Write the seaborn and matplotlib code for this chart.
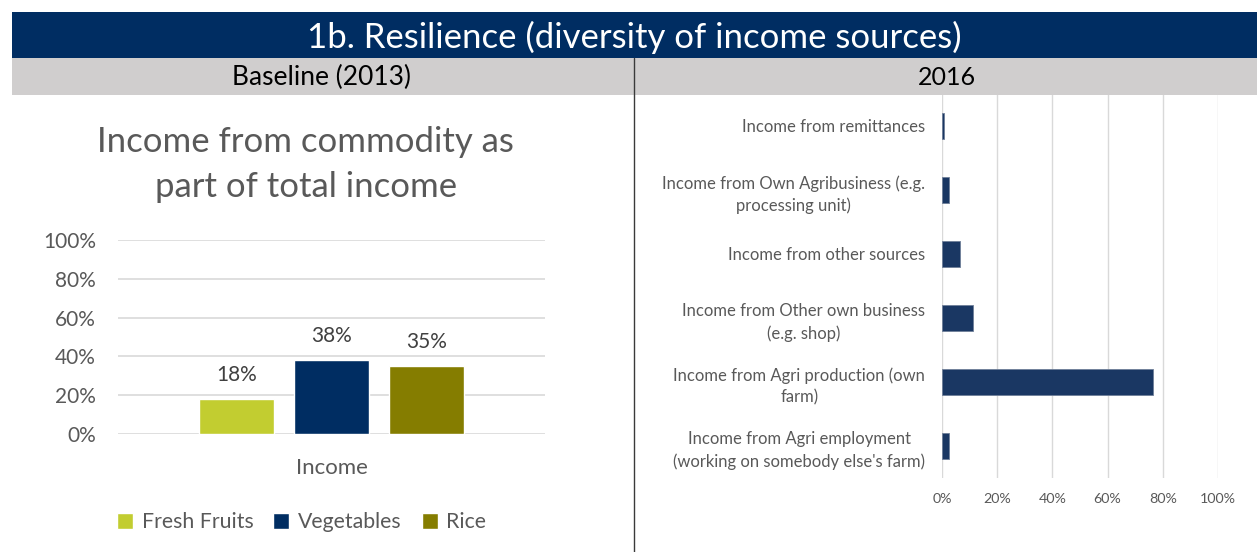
import matplotlib
matplotlib.use("Agg")
import matplotlib.pyplot as plt
from matplotlib.patches import Rectangle
from matplotlib.lines import Line2D
from matplotlib.ticker import PercentFormatter
import pandas as pd
import seaborn as sns

# ---- data -------------------------------------------------------------
commodities = ["Fresh Fruits", "Vegetables", "Rice"]
commodity_share = [0.18, 0.38, 0.35]
commodity_colors = ["#C2CD30", "#002D62", "#857D00"]

income_sources = [
    "Income from remittances",
    "Income from Own Agribusiness (e.g.\nprocessing unit)",
    "Income from other sources",
    "Income from Other own business\n(e.g. shop)",
    "Income from Agri production (own\nfarm)",
    "Income from Agri employment\n(working on somebody else's farm)",
]
source_share = [0.009, 0.024, 0.064, 0.112, 0.763, 0.027]

header_title = "1b. Resilience (diversity of income sources)"
left_panel_title = "Baseline (2013)"
right_panel_title = "2016"
left_chart_title = "Income from commodity as\npart of total income"

# ---- style ------------------------------------------------------------
sns.set_theme(style="white")
plt.rcParams["font.family"] = ["Lato", "DejaVu Sans"]
NAVY = "#002D62"
GREY_TXT = "#595959"
GRID = "#D9D9D9"

W, H = 1257, 552
fig = plt.figure(figsize=(W / 100, H / 100), dpi=100)


def px_rect(x0, y0, x1, y1):
    """Figure-fraction rectangle from pixel coordinates (top-left origin)."""
    return [x0 / W, 1 - y1 / H, (x1 - x0) / W, (y1 - y0) / H]


# header bands
l, b, w, h = px_rect(12, 12, W, 58)
fig.patches.append(Rectangle((l, b), w, h, transform=fig.transFigure,
                             facecolor=NAVY, edgecolor="none", zorder=0))
l, b, w, h = px_rect(12, 58, W, 95)
fig.patches.append(Rectangle((l, b), w, h, transform=fig.transFigure,
                             facecolor="#D0CECE", edgecolor="none", zorder=0))
fig.lines.append(Line2D([634 / W, 634 / W], [0, 1 - 58 / H], transform=fig.transFigure,
                        color="#3A3A3A", lw=1.0))

fig.text(634 / W, 1 - 37 / H, header_title, color="white", fontsize=25,
         ha="center", va="center")
fig.text(322 / W, 1 - 77 / H, left_panel_title, color="black", fontsize=19,
         ha="center", va="center")
fig.text(947 / W, 1 - 77 / H, right_panel_title, color="black", fontsize=18,
         ha="center", va="center")

# ---- left: commodity share of income ----------------------------------
axL = fig.add_axes(px_rect(118, 240, 545, 434))
df_left = pd.DataFrame({"group": ["Income"] * len(commodities),
                        "commodity": commodities,
                        "share": commodity_share})
sns.barplot(data=df_left, x="group", y="share", hue="commodity",
            hue_order=commodities, palette=commodity_colors,
            width=0.8, gap=0.21, ax=axL, saturation=1, legend=True)
for cont in axL.containers:
    axL.bar_label(cont, labels=[f"{v:.0%}" for v in cont.datavalues],
                  padding=10, fontsize=15, color="#404040")
axL.set_ylim(0, 1)
axL.set_xlim(-0.6, 0.6)
axL.set_yticks([0, 0.2, 0.4, 0.6, 0.8, 1.0])
axL.yaxis.set_major_formatter(PercentFormatter(1.0, decimals=0))
axL.grid(axis="y", color=GRID, lw=1.2)
axL.set_axisbelow(True)
for s in axL.spines.values():
    s.set_visible(False)
axL.set_xlabel("")
axL.set_ylabel("")
axL.tick_params(axis="y", labelsize=15, labelcolor=GREY_TXT, length=0, pad=16)
axL.tick_params(axis="x", labelsize=16, labelcolor=GREY_TXT, length=0, pad=17)
axL.set_title(left_chart_title, fontsize=25, color=GREY_TXT, pad=31, x=0.44,
              linespacing=1.48)
leg = axL.legend(loc="upper center", bbox_to_anchor=(0.43, -0.305), ncol=3,
                 frameon=False, fontsize=15.3, handlelength=0.75, handleheight=0.75,
                 handletextpad=0.4, columnspacing=0.95)
for t in leg.get_texts():
    t.set_color(GREY_TXT)

# ---- right: income sources 2016 ---------------------------------------
axR = fig.add_axes(px_rect(942, 94, 1218, 478))
df_right = pd.DataFrame({"source": income_sources, "share": source_share})
sns.barplot(data=df_right, y="source", x="share", orient="h",
            color="#1A3763", saturation=1, width=0.4, ax=axR,
            edgecolor="#6F7F99", linewidth=0.6)
axR.set_xlim(0, 1)
axR.set_xticks([0, 0.2, 0.4, 0.6, 0.8, 1.0])
axR.xaxis.set_major_formatter(PercentFormatter(1.0, decimals=0))
axR.grid(axis="x", color=GRID, lw=1.0)
axR.set_axisbelow(True)
for s in axR.spines.values():
    s.set_visible(False)
axR.set_xlabel("")
axR.set_ylabel("")
axR.tick_params(axis="y", labelsize=12, labelcolor=GREY_TXT, length=0, pad=12)
axR.tick_params(axis="x", labelsize=10.3, labelcolor=GREY_TXT, length=0, pad=10.5)
for t in axR.get_yticklabels():
    t.set_horizontalalignment("right")
    t.set_multialignment("center")
    t.set_linespacing(1.45)

fig.savefig("out.png", dpi=100)
